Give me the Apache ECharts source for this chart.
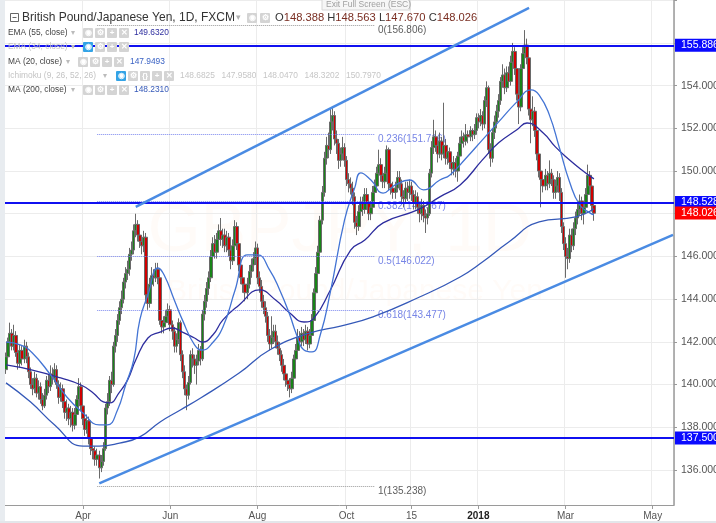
<!DOCTYPE html>
<html><head><meta charset="utf-8">
<script src="https://cdn.jsdelivr.net/npm/echarts@6/dist/echarts.min.js"></script>
<style>html,body{margin:0;padding:0;background:#fff}#c{width:716px;height:523px}</style>
</head><body><div id="c"></div>
<script>
// ---------- DATA ----------
// trading days (weekdays) from 2017-02-08 to 2018-05-15
const firstDay = '2017-02-08';
const lastDay = '2018-05-15';
const axisLabelDates = {'2017-04-03':'Apr','2017-06-01':'Jun','2017-08-01':'Aug','2017-10-02':'Oct','2017-11-15':'15','2018-01-01':'2018','2018-03-01':'Mar','2018-05-01':'May'};
// daily candles [open, close, low, high], first bar = 2017-02-08
const candles = [
[140.7,141.3,140.5,141.5],[141.3,142.0,141.1,142.2],[142.0,142.4,141.7,142.9],[142.4,141.8,141.6,142.6],[141.8,142.3,141.6,142.8],
[142.3,141.5,141.3,142.5],[141.5,141.0,140.7,141.7],[141.0,141.6,140.8,141.9],[141.6,141.2,140.9,141.8],[141.2,141.8,141.0,142.1],
[141.8,141.3,141.0,142.0],[141.3,140.6,140.3,141.5],[140.6,140.0,139.8,140.8],[140.0,139.8,139.5,140.3],[139.8,140.3,139.6,140.6],
[140.3,139.6,139.4,140.5],[139.6,139.9,139.3,140.2],[139.9,139.3,139.1,140.1],[139.3,139.0,138.8,139.6],[139.0,139.5,138.9,139.8],
[139.5,140.2,139.3,140.4],[140.2,139.9,139.6,140.5],[139.9,140.5,139.7,140.9],[140.5,140.3,140.0,140.8],[140.3,140.7,140.1,141.0],
[140.7,140.0,139.8,140.9],[140.0,139.4,139.1,140.2],[139.4,139.8,139.2,140.1],[139.8,139.2,138.9,140.0],[139.2,138.7,138.4,139.4],
[138.7,138.9,138.3,139.3],[138.9,138.4,138.1,139.1],[138.4,138.7,138.0,139.0],[138.7,138.1,137.8,138.9],[138.1,138.6,137.9,138.9],
[138.6,139.3,138.4,139.5],[139.3,139.9,139.0,140.3],[139.9,139.0,138.8,140.1],
[139.0,138.4,138.1,139.2],[138.4,137.9,137.6,138.7],[137.9,138.3,137.7,138.6],[138.3,137.5,137.2,138.5],[137.5,137.0,136.7,137.8],
[137.0,136.9,136.5,137.3],[136.9,136.5,136.2,137.1],[136.5,136.7,136.2,137.0],[136.7,136.1,135.6,136.9],[136.1,136.4,135.9,136.7],
[136.4,137.0,136.2,137.3],[137.0,138.9,136.9,139.1],[138.9,139.2,138.6,139.6],[139.2,140.2,139.0,140.4],[140.2,140.0,139.6,140.6],
[140.0,141.8,139.9,142.0],[141.8,142.3,141.5,142.6],[142.3,143.0,142.0,143.3],[143.0,143.6,142.8,143.9],[143.6,144.0,143.3,144.4],
[144.0,144.8,143.8,145.0],[144.8,145.2,144.5,145.5],[145.2,145.4,144.9,145.8],[145.4,146.1,145.1,146.4],[146.1,146.3,145.8,146.7],
[146.3,147.2,146.1,147.5],[147.2,147.5,146.9,148.0],[147.5,147.0,146.7,147.7],[147.0,146.7,146.4,147.3],[146.7,146.5,146.1,147.0],
[146.5,146.9,146.2,147.2],[146.9,144.2,143.8,147.1],[144.2,143.8,143.5,144.6],[143.8,144.7,143.6,145.0],[144.7,145.1,144.4,145.5],
[145.1,145.0,144.6,145.4],[145.0,145.4,144.8,145.7],[145.4,145.0,144.7,145.7],[145.0,143.0,142.8,145.2],[143.0,142.7,142.4,143.3],
[142.7,142.9,142.4,143.2],[142.9,143.2,142.7,143.5],[143.2,143.5,142.9,143.8],[143.5,142.8,142.5,143.7],[142.8,142.5,142.1,143.0],
[142.5,141.8,141.5,142.7],[141.8,142.1,141.5,142.4],[142.1,142.9,141.9,143.1],[142.9,141.4,141.1,143.0],[141.4,140.6,140.3,141.6],
[140.6,139.8,139.5,140.9],[139.8,139.5,138.8,140.0],[139.5,140.1,139.3,140.4],[140.1,141.4,140.0,141.6],[141.4,141.2,140.8,141.7],
[141.2,140.9,140.5,141.4],[140.9,141.1,140.0,141.4],[141.1,141.6,140.9,141.9],[141.6,141.2,140.9,141.8],[141.2,143.3,141.1,143.5],
[143.3,143.9,143.0,144.2],[143.9,144.5,143.6,144.8],[144.5,145.0,144.2,145.3],[145.0,146.0,144.8,146.3],[146.0,146.6,145.7,146.9],
[146.6,146.2,145.9,147.0],[146.2,146.8,145.9,147.1],[146.8,147.2,146.5,147.5],[147.2,146.8,146.5,147.8],[146.8,147.0,146.4,147.3],
[147.0,146.5,146.2,147.3],[146.5,146.9,146.2,147.2],[146.9,146.3,146.0,147.1],[146.3,145.8,145.4,146.5],[145.8,146.5,145.6,146.8],
[146.5,147.4,146.3,147.7],[147.4,146.6,146.3,147.6],[146.6,145.6,145.3,146.8],[145.6,145.0,144.7,145.9],[145.0,144.7,144.3,145.3],
[144.7,144.3,143.9,145.0],[144.3,144.7,144.0,145.0],[144.7,145.3,144.5,145.6],[145.3,145.6,145.0,145.9],[145.6,145.9,145.3,146.2],
[145.9,146.4,145.6,146.7],[146.4,145.0,144.7,146.6],[145.0,144.6,144.3,145.3],[144.6,143.9,143.6,144.9],[143.9,143.6,143.3,144.2],
[143.6,143.2,142.9,143.9],[143.2,142.3,142.0,143.4],[142.3,141.9,141.6,142.6],[141.9,142.2,141.7,143.2],[142.2,142.5,141.9,142.8],
[142.5,142.0,141.7,142.8],[142.0,141.7,141.4,142.3],[141.7,141.4,141.1,142.0],[141.4,140.9,140.6,141.6],[140.9,140.5,140.2,141.2],
[140.5,140.2,139.9,140.8],[140.2,140.0,139.7,140.5],[140.0,139.8,139.4,140.3],[139.8,140.3,139.6,140.6],[140.3,141.2,140.1,141.4],
[141.2,141.6,140.9,141.9],[141.6,142.2,141.3,142.6],[142.2,142.0,141.7,142.5],[142.0,142.4,141.8,142.7],[142.4,142.1,141.8,142.6],
[142.1,142.5,141.9,142.8],[142.5,141.9,141.6,142.7],[141.9,142.3,141.7,142.6],[142.3,143.0,142.1,143.3],[143.0,144.3,142.8,144.5],
[144.3,145.2,144.0,145.5],[145.2,146.2,144.9,146.5],[146.2,147.7,146.0,147.9],[147.7,149.0,147.5,149.3],[149.0,150.6,148.8,150.9],
[150.6,151.2,150.3,151.6],[151.2,151.0,150.6,151.8],[151.0,152.3,150.8,152.9],[152.3,152.6,151.9,152.95],[152.6,151.5,151.2,152.8],
[151.5,151.3,150.8,151.9],[151.3,150.5,150.1,151.5],[150.5,150.8,150.2,151.1],[150.8,151.1,150.5,151.6],[151.1,150.5,150.2,151.3],
[150.5,149.6,149.3,150.7],[149.6,149.4,149.0,149.9],[149.4,149.2,148.9,149.7],[149.2,148.8,148.4,149.5],[148.8,147.6,147.3,149.0],
[147.6,147.4,147.0,147.9],[147.4,148.1,147.2,148.4],[148.1,148.5,147.8,148.8],[148.5,148.2,147.9,148.8],[148.2,148.9,148.0,149.2],
[148.9,148.5,148.2,149.2],[148.5,148.0,147.7,148.7],[148.0,148.3,147.7,148.6],[148.3,149.0,148.1,149.3],[149.0,149.3,148.7,149.6],
[149.3,149.9,149.0,150.2],[149.9,150.3,149.6,151.0],[150.3,149.8,149.5,150.6],[149.8,149.5,149.2,150.1],[149.5,149.9,149.2,150.2],
[149.9,151.0,149.7,151.2],[151.0,149.4,149.1,151.1],[149.4,149.2,148.9,149.7],[149.2,149.0,148.7,149.5],[149.0,149.2,148.7,149.5],
[149.2,149.7,149.0,150.0],[149.7,149.4,149.1,150.0],[149.4,148.8,148.5,149.6],[148.8,148.7,148.3,149.1],[148.7,149.2,148.5,149.5],
[149.2,149.0,148.6,149.5],[149.0,149.3,148.7,149.6],[149.3,148.9,148.6,149.5],[148.9,148.5,148.2,149.1],[148.5,148.8,148.2,149.1],
[148.8,148.3,148.0,149.0],[148.3,148.0,147.6,148.5],[148.0,148.4,147.7,148.7],[148.4,147.9,147.6,148.6],[147.9,147.8,147.1,148.2],
[147.8,148.0,147.5,148.3],[148.0,149.9,147.9,150.1],[149.9,151.1,149.7,151.4],[151.1,151.6,150.8,152.4],[151.6,151.2,150.9,151.9],
[151.2,150.8,150.4,151.5],[150.8,151.4,150.6,151.8],[151.4,150.8,150.5,151.6],[150.8,151.2,150.6,153.2],[151.2,150.6,150.3,151.5],
[150.6,150.9,150.3,151.2],[150.9,150.4,150.1,151.1],[150.4,150.1,149.8,150.6],[150.1,150.4,149.8,150.7],[150.4,150.0,149.7,150.6],
[150.0,150.7,149.5,150.9],[150.7,151.3,150.5,151.6],[151.3,151.6,151.0,151.9],[151.6,151.4,151.1,151.8],[151.4,151.7,151.2,152.2],
[151.7,151.6,151.3,151.9],[151.6,151.9,151.4,152.1],[151.9,151.7,151.4,152.0],[151.7,151.9,151.5,152.2],[151.9,152.5,151.7,152.7],
[152.5,152.3,152.0,152.7],[152.3,152.6,152.1,152.9],[152.6,152.2,151.9,152.8],[152.2,153.3,152.0,153.5],[153.3,153.9,153.0,154.2],
[153.9,151.0,150.8,154.0],[151.0,150.6,150.2,151.3],[150.6,151.8,150.4,152.0],[151.8,152.3,151.5,152.6],[152.3,152.8,152.0,153.1],
[152.8,153.3,152.5,153.6],[153.3,154.2,153.1,154.4],[154.2,154.5,153.9,155.0],[154.5,153.9,153.6,154.8],[153.9,154.6,153.7,154.9],
[154.6,154.2,153.9,154.9],[154.2,155.1,154.0,155.4],[155.1,155.6,154.8,156.0],[155.6,154.8,154.5,155.8],[154.8,153.6,153.3,155.0],
[153.6,153.0,152.2,153.8],[153.0,154.8,152.8,155.0],[154.8,155.5,154.5,155.8],[155.5,155.9,155.2,156.6],[155.9,155.3,155.0,156.2],
[155.3,152.9,152.6,155.5],[152.9,152.4,151.3,153.2],[152.4,152.8,152.1,153.5],[152.8,151.9,151.6,153.0],[151.9,150.8,150.5,152.1],
[150.8,150.0,149.7,151.0],[150.0,149.6,148.3,150.3],[149.6,149.3,149.0,149.9],[149.3,149.8,149.1,150.1],[149.8,149.4,149.1,150.0],
[149.4,149.9,149.2,150.5],[149.9,149.6,149.3,150.1],[149.6,149.0,148.7,149.8],[149.0,149.3,148.7,149.6],[149.3,149.7,149.0,150.0],
[149.7,149.0,148.6,149.9],[149.0,147.4,147.1,149.2],[147.4,146.6,146.3,147.6],[146.6,146.0,145.0,146.9],[146.0,145.9,145.4,146.4],
[145.9,147.0,145.7,147.3],[147.0,146.5,146.2,147.3],[146.5,147.3,146.3,147.6],[147.3,147.8,147.0,148.1],[147.8,148.2,147.5,148.5],
[148.2,148.6,147.9,148.9],[148.6,148.0,147.7,148.8],[148.0,148.3,147.5,148.6],[148.3,148.9,148.1,149.2],[148.9,149.8,148.7,150.3],
[149.8,149.3,149.0,150.0],[149.3,148.388,148.1,149.5],[148.388,148.026,147.670,148.563]
];
// indicator readings [bar index, value]
const ma20 = [[0,141.99],[7,141.86],[13,141.48],[22,140.45],[30,139.42],[38,138.67],[46,138.11],[50,138.11],[55,138.81],[59,139.98],[63,141.15],[66,143.03],[70,144.20],[75,145.46],[78,145.13],[83,143.96],[87,143.03],[93,141.86],[97,141.62],[101,141.86],[107,142.70],[113,144.43],[119,146.07],[124,146.07],[130,145.37],[135,144.43],[140,143.26],[143,142.42],[147,141.62],[151,141.53],[155,142.32],[160,144.34],[167,147.71],[172,149.21],[175,149.91],[180,149.58],[186,148.97],[192,149.35],[199,149.58],[206,149.12],[214,149.58],[219,149.82],[227,150.61],[235,151.46],[243,152.30],[252,153.24],[259,153.80],[263,153.56],[268,152.63],[273,151.08],[278,149.49],[283,148.41],[288,148.04],[290,147.949]];
const ema55 = [[0,140.92],[13,140.68],[27,140.31],[37,139.98],[43,139.61],[48,139.19],[51,139.14],[56,139.65],[60,140.22],[64,141.15],[70,142.18],[76,142.46],[82,142.65],[87,142.46],[93,142.18],[97,141.99],[102,142.32],[107,143.03],[115,143.73],[125,144.43],[133,143.96],[140,143.35],[147,142.93],[152,143.12],[160,144.43],[170,146.30],[177,146.77],[186,147.57],[203,148.18],[214,148.79],[224,149.35],[235,150.52],[243,151.32],[252,151.93],[257,152.25],[265,151.78],[271,151.13],[278,150.52],[284,150.05],[290,149.632]];
const ma200 = [[0,140.08],[12,139.19],[24,138.11],[38,137.12],[46,137.12],[56,137.26],[66,137.55],[76,138.25],[86,138.81],[96,139.37],[115,140.54],[130,141.62],[150,142.42],[165,142.74],[181,143.17],[204,144.10],[224,145.04],[235,145.74],[248,146.68],[263,147.62],[281,147.85],[290,148.231]];
// drawings
const upperTrend = [[64,148.32],[258,157.64]];
const lowerTrend = [[46,135.37],[329,147.01]];
const hLevels = [155.886, 148.528, 137.5];
const lastClose = 148.026;
const fibLevels = [[0,156.806],[0.236,151.716],[0.382,148.567],[0.5,146.022],[0.618,143.477],[1,135.238]];
const fibRange = [45,182];
const yTicksHidden = [148,156,158];

// ---------- BUILD ----------
const categories = [];
for (let d = new Date(firstDay + 'T00:00:00Z'); d <= new Date(lastDay + 'T00:00:00Z'); d.setUTCDate(d.getUTCDate()+1)) {
  const w = d.getUTCDay(); if (w === 0 || w === 6) continue;
  categories.push(d.toISOString().slice(0,10));
}
const labelAt = {};
categories.forEach((c,i)=>{ if (axisLabelDates[c]) labelAt[i] = axisLabelDates[c]; });
const isLab = (i) => labelAt[i] !== undefined;
const FONT = 'Liberation Sans, Arial, sans-serif';

const fibColor = (f) => (f===0||f===1) ? '#9a9a9a' : '#7b87ee';
const fibText = (f) => (f===0||f===1) ? '#333' : '#5567e0';

const chart = echarts.init(document.getElementById('c'));

function txt(x,y,text,size,fill){
  return {type:'text', x:x, y:y, z:100, silent:true,
    style:{text:text, font: size+'px '+FONT, fill:fill, textVerticalAlign:'middle', verticalAlign:'middle'}};
}
function icon(x,y,color,sym){
  return [{type:'rect', x:x, y:y-5, z:100, silent:true, shape:{width:10,height:10,r:1}, style:{fill:color}},
          {type:'text', x:x+5, y:y, z:101, silent:true, style:{text:sym, font:'bold 8px '+FONT, fill:'#fff', textAlign:'center', align:'center', textVerticalAlign:'middle', verticalAlign:'middle'}}];
}
const G = [];
// side strips
G.push({type:'rect', x:0, y:0, z:100, silent:true, shape:{width:5,height:523}, style:{fill:'#e8ecf0'}});
G.push({type:'rect', x:0, y:521, z:100, silent:true, shape:{width:716,height:2}, style:{fill:'#e3e6ea'}});
// watermark
G.push({type:'text', x:340, y:232, z:-1, silent:true, style:{text:'GBPJPY, 1D', font:'68px '+FONT, fill:'rgba(255,140,60,0.035)', textAlign:'center', align:'center', textVerticalAlign:'middle', verticalAlign:'middle'}});
G.push({type:'text', x:355, y:292, z:-1, silent:true, style:{text:'British Pound/Japanese Yen', font:'30px '+FONT, fill:'rgba(255,140,60,0.035)', textAlign:'center', align:'center', textVerticalAlign:'middle', verticalAlign:'middle'}});
// exit full screen
G.push({type:'rect', x:322, y:-4, z:100, silent:true, shape:{width:88,height:14}, style:{fill:'#f6f6f6', stroke:'#d6d6d6', lineWidth:1}});
G.push(txt(326,5,'Exit Full Screen (ESC)',8.5,'#a0a0a0'));
// title row
G.push({type:'rect', x:10.5, y:13.5, z:100, silent:true, shape:{width:8,height:8}, style:{fill:'#fff', stroke:'#666', lineWidth:1}});
G.push({type:'line', z:101, silent:true, shape:{x1:12.5,y1:17.5,x2:16.5,y2:17.5}, style:{stroke:'#666', lineWidth:1}});
G.push(txt(22,18,'British Pound/Japanese Yen, 1D, FXCM',12,'#333'));
G.push(txt(236,18,'\u25BE',9,'#b0b0b0'));
G.push(...icon(247,18,'#d4d4d4','\u25C9'), ...icon(260,18,'#d4d4d4','\u2699'));
G.push({type:'text', x:275, y:18, z:100, silent:true, style:{text:'{l|O}{v|148.388} {l|H}{v|148.563} {l|L}{v|147.670} {l|C}{v|148.026}', font:'11.2px '+FONT, textVerticalAlign:'middle', verticalAlign:'middle',
  rich:{l:{fill:'#333', font:'11.2px '+FONT}, v:{fill:'#7a2e22', font:'11.2px '+FONT}}}});
// legend rows
const legendRows = [
  {y:33, name:'EMA (55, close)', faded:false, arrowX:71, iconX:83, eyeBlue:false, vals:['149.6320'], valX:134, vcol:'#2d2d9e', extra:false},
  {y:47, name:'EMA (34, close)', faded:true, arrowX:71, iconX:83, eyeBlue:true, vals:[], valX:0, vcol:'#ccc', extra:false},
  {y:62, name:'MA (20, close)', faded:false, arrowX:66, iconX:78, eyeBlue:false, vals:['147.9493'], valX:130, vcol:'#3a62c4', extra:false},
  {y:76, name:'Ichimoku (9, 26, 52, 26)', faded:true, arrowX:103, iconX:116, eyeBlue:true, vals:['148.6825','147.9580','148.0470','148.3202','150.7970'], valX:180, vcol:'#c6c6c6', extra:true},
  {y:90, name:'MA (200, close)', faded:false, arrowX:71, iconX:83, eyeBlue:false, vals:['148.2310'], valX:134, vcol:'#3559b8', extra:false}
];
legendRows.forEach(r=>{
  G.push(txt(8,r.y,r.name,8.4,r.faded?'#c4c4c4':'#444'));
  G.push(txt(r.arrowX,r.y,'\u25BE',8,'#bbb'));
  let x = r.iconX;
  G.push(...icon(x,r.y,r.eyeBlue?'#33a3e6':'#d4d4d4','\u25C9')); x+=12;
  G.push(...icon(x,r.y,'#d4d4d4','\u2699')); x+=12;
  if (r.extra){ G.push(...icon(x,r.y,'#d4d4d4','{}')); x+=12; }
  G.push(...icon(x,r.y,'#d4d4d4','+')); x+=12;
  G.push(...icon(x,r.y,'#d4d4d4','\u2715'));
  r.vals.forEach((v,j)=>{ G.push(txt(r.valX + j*41.5, r.y, v, 8.4, r.vcol)); });
});

const boxLabel = (text,bg) => ({show:true, position:'end', distance:1, formatter:text, backgroundColor:bg, color:'#fff', padding:[1,8,1,6], fontSize:10.5, fontFamily:FONT, lineHeight:11});

const option = {
  animation:false,
  backgroundColor:'#fff',
  grid:{left:5, right:42, top:0, bottom:18, containLabel:false, outerBoundsMode:'none'},
  xAxis:{type:'category', data:categories, boundaryGap:true,
    axisLine:{lineStyle:{color:'#9a9a9a', width:1}},
    axisTick:{show:true, interval:(i)=>isLab(i), alignWithLabel:true, length:4, lineStyle:{color:'#9a9a9a'}},
    axisLabel:{interval:(i)=>isLab(i), formatter:(v,i)=> labelAt[i]==='2018' ? '{b|2018}' : (labelAt[i]||''), color:'#555', fontSize:10, margin:6, fontFamily:FONT,
      rich:{b:{fontWeight:'bold', color:'#222', fontSize:10, fontFamily:FONT}}},
    splitLine:{show:true, interval:(i)=>isLab(i), lineStyle:{color:'#ececec', width:1}}},
  yAxis:{type:'value', position:'right', min:134.36, max:158.01, splitNumber:11, scale:true,
    axisLine:{show:true, lineStyle:{color:'#9a9a9a', width:1.5}},
    axisTick:{show:true, length:3, lineStyle:{color:'#9a9a9a'}},
    axisLabel:{showMinLabel:false, showMaxLabel:false, color:'#555', fontSize:10.5, margin:7, fontFamily:FONT,
      formatter:(v)=> (Math.abs(v-Math.round(v))>1e-6 || yTicksHidden.indexOf(Math.round(v))>=0) ? '' : v.toFixed(3)},
    splitLine:{show:true, lineStyle:{color:'#ececec', width:1}}},
  graphic:G,
  series:[
    {type:'candlestick', name:'GBPJPY', data:candles, barWidth:3, z:3,
      itemStyle:{color:'#188418', color0:'#d00000', borderColor:'#6a6a6a', borderColor0:'#6a6a6a', borderWidth:1}},
    {type:'line', name:'MA200', data:ma200, smooth:0.5, symbol:'none', z:4, lineStyle:{width:1.3, color:'#3559b8'}},
    {type:'line', name:'EMA55', data:ema55, smooth:0.5, symbol:'none', z:4, lineStyle:{width:1.3, color:'#2d2d9e'}},
    {type:'line', name:'MA20', data:ma20, smooth:0.5, symbol:'none', z:4, lineStyle:{width:1.3, color:'#4374d4'}},
    {type:'line', name:'upper', data:upperTrend, symbol:'none', z:5, lineStyle:{width:2.5, color:'#4a8be3'}},
    {type:'line', name:'lower', data:lowerTrend, symbol:'none', z:5, lineStyle:{width:2.5, color:'#4a8be3'}},
    {type:'line', name:'fib', data:[], z:2, silent:true,
      markLine:{silent:true, symbol:['none','none'], animation:false,
        data: fibLevels.map(f=>[{coord:[fibRange[0], f[1]], lineStyle:{color:fibColor(f[0]), type:'dotted', width:1}, label:{show:false}},{coord:[fibRange[1], f[1]]}])}},
    {type:'scatter', name:'fibLabels', z:1, symbolSize:0, silent:true,
      data: fibLevels.map(f=>({value:[fibRange[1], f[1]], name:f[0]+'('+f[1].toFixed(3)+')', label:{color:fibText(f[0])}})),
      label:{show:true, position:[3,5], align:'left', verticalAlign:'middle', formatter:'{b}', fontSize:10, fontFamily:FONT}},
    {type:'line', name:'levels', data:[], z:6, silent:true,
      markLine:{silent:true, symbol:['none','none'], animation:false,
        data: hLevels.map(v=>({yAxis:v, lineStyle:{color:'#1010f0', width:2, type:'solid'}, label:boxLabel(v.toFixed(3),'#0a0aff')}))
          .concat([{yAxis:lastClose, lineStyle:{color:'rgba(255,0,0,0)', width:1, type:'solid'}, label:boxLabel(lastClose.toFixed(3),'#ff0000')}])}}
  ]
};
chart.setOption(option);
</script></body></html>
